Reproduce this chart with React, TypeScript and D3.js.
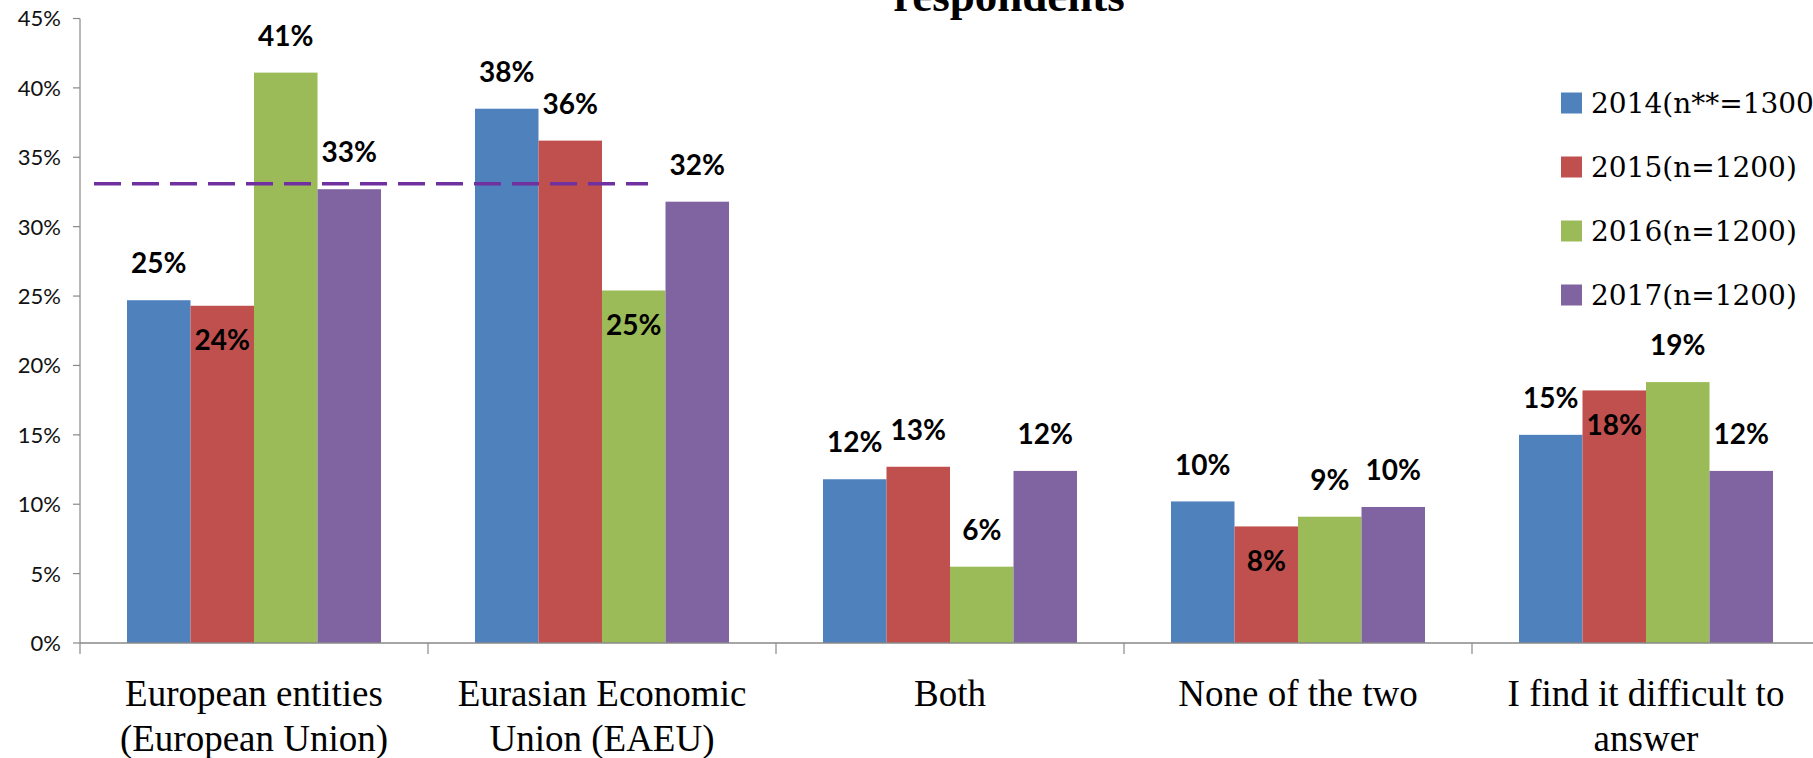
import * as d3 from "d3";

// chart data
const categories = [
  ["European entities", "(European Union)"],
  ["Eurasian Economic", "Union (EAEU)"],
  ["Both"],
  ["None of the two"],
  ["I find it difficult to", "answer"],
];
const seriesNames = ["2014(n**=1300)", "2015(n=1200)", "2016(n=1200)", "2017(n=1200)"];
const values2014 = [24.7, 38.5, 11.8, 10.2, 15.0];
const values2015 = [24.3, 36.2, 12.7, 8.4, 18.2];
const values2016 = [41.1, 25.4, 5.5, 9.1, 18.8];
const values2017 = [32.7, 31.8, 12.4, 9.8, 12.4];
const labels2014 = ["25%", "38%", "12%", "10%", "15%"];
const labels2015 = ["24%", "36%", "13%", "8%", "18%"];
const labels2016 = ["41%", "25%", "6%", "9%", "19%"];
const labels2017 = ["33%", "32%", "12%", "10%", "12%"];
// which labels sit inside the bar instead of above it
const inside2014 = [false, false, false, false, false];
const inside2015 = [true, false, false, true, true];
const inside2016 = [false, true, false, false, false];
const inside2017 = [false, false, false, false, false];
const yTicks = [0, 5, 10, 15, 20, 25, 30, 35, 40, 45];
const averageLine = 33.1;

const colors = ["#4F81BD", "#C0504D", "#9BBB59", "#8064A2"];

export default function App() {
  const W = 1813;
  const H = 758;
  const left = 80;
  const bottom = 643;
  const top = 18.5;

  const allValues = [values2014, values2015, values2016, values2017];
  const allLabels = [labels2014, labels2015, labels2016, labels2017];
  const allInside = [inside2014, inside2015, inside2016, inside2017];

  const catIdx = categories.map((_, i) => String(i));
  const x0 = d3.scaleBand().domain(catIdx).range([left, left + 348 * 5]).padding(0);
  const x1 = d3
    .scaleBand()
    .domain(seriesNames)
    .range([0, x0.bandwidth()])
    .paddingInner(0)
    .paddingOuter(0.74);
  const y = d3.scaleLinear().domain([0, 45]).range([bottom, top]);

  const bounds = d3.range(categories.length + 1).map((i) =>
    i < categories.length ? x0(String(i))! : x0(String(i - 1))! + x0.bandwidth()
  );

  return (
    <svg
      width={W}
      height={H}
      style={{ position: "absolute", left: 0, top: 0, background: "#fff" }}
    >
      {/* title, cut by the top edge */}
      <text
        x={1009}
        y={11}
        textAnchor="middle"
        fontFamily="'Liberation Serif', serif"
        fontWeight="bold"
        fontSize={45}
      >
        respondents
      </text>

      {/* y axis */}
      <line x1={left} x2={left} y1={top} y2={bottom} stroke="#898989" strokeWidth={1.2} />
      {yTicks.map((t) => (
        <g key={t}>
          <line x1={left - 7} x2={left} y1={y(t)} y2={y(t)} stroke="#898989" strokeWidth={1.2} />
          <text
            x={61}
            y={y(t)}
            dy="0.36em"
            textAnchor="end"
            fontFamily="Lato, sans-serif"
            fontSize={22}
            fill="#111"
          >
            {t}%
          </text>
        </g>
      ))}

      {/* bars */}
      {allValues.map((vals, s) =>
        vals.map((v, c) => (
          <rect
            key={`${s}-${c}`}
            x={x0(String(c))! + x1(seriesNames[s])!}
            y={y(v)}
            width={x1.bandwidth()}
            height={bottom - y(v)}
            fill={colors[s]}
          />
        ))
      )}

      {/* x axis */}
      <line x1={left} x2={W} y1={bottom} y2={bottom} stroke="#898989" strokeWidth={1.5} />
      {bounds.map((b, i) => (
        <line key={i} x1={b} x2={b} y1={bottom} y2={bottom + 11} stroke="#898989" strokeWidth={1.2} />
      ))}

      {/* average dashed line */}
      <line
        x1={x0("0")! + 14}
        x2={x0("1")! + 220}
        y1={y(averageLine)}
        y2={y(averageLine)}
        stroke="#7030A0"
        strokeWidth={3.5}
        strokeDasharray="27 11"
      />

      {/* data labels */}
      {allLabels.map((labs, s) =>
        labs.map((lab, c) => {
          const v = allValues[s][c];
          const cy = allInside[s][c] ? y(v) + 34 : y(v) - 37;
          return (
            <text
              key={`l${s}-${c}`}
              x={x0(String(c))! + x1(seriesNames[s])! + x1.bandwidth() / 2}
              y={cy}
              dy="0.36em"
              textAnchor="middle"
              fontFamily="Lato, sans-serif"
              fontWeight="bold"
              fontSize={28}
              fill="#000"
            >
              {lab}
            </text>
          );
        })
      )}

      {/* category labels */}
      {categories.map((lines, c) => (
        <text
          key={`c${c}`}
          textAnchor="middle"
          fontFamily="'Liberation Serif', serif"
          fontSize={37}
          fill="#000"
        >
          {lines.map((ln, k) => (
            <tspan key={k} x={x0(String(c))! + x0.bandwidth() / 2} y={706 + k * 45}>
              {ln}
            </tspan>
          ))}
        </text>
      ))}

      {/* legend */}
      {seriesNames.map((name, s) => (
        <g key={name} transform={`translate(1561, ${103 + s * 64})`}>
          <rect x={0} y={-10.5} width={21} height={21} fill={colors[s]} />
          <text
            x={30}
            y={0}
            dy="0.36em"
            fontFamily="'DejaVu Serif', serif"
            fontSize={28}
            fill="#000"
          >
            {name}
          </text>
        </g>
      ))}
    </svg>
  );
}
